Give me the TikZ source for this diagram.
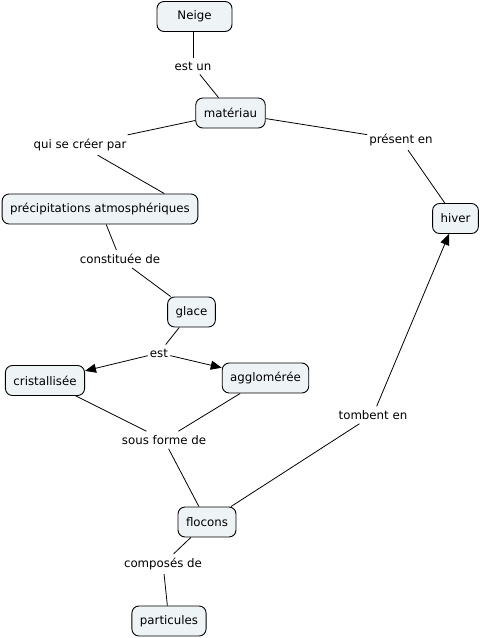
\documentclass[tikz,border=0pt]{standalone}
\usepackage{fontspec}
\setmainfont{DejaVu Sans}
\usetikzlibrary{arrows.meta}
\definecolor{cfill}{HTML}{EEF3F6}
\tikzset{
  concept/.style={draw=black, line width=0.9pt, fill=cfill, rounded corners=7pt,
    minimum height=30pt, inner xsep=8pt, inner ysep=2pt, font=\fontsize{11.8}{13}\selectfont},
  linklabel/.style={inner xsep=2pt, inner ysep=4pt, font=\fontsize{11.8}{13}\selectfont},
  conn/.style={draw=black, line width=0.8pt},
  arr/.style={conn, -{Triangle[length=11pt,width=9pt]}}
}
\begin{document}
\begin{tikzpicture}[x=1pt,y=-1pt]
\useasboundingbox (0,0) rectangle (481,638);
% concepts
\node[concept, minimum width=75pt] (neige) at (194.5,16.5) {Neige};
\node[concept] (materiau) at (230.5,113) {matériau};
\node[concept] (precip) at (100,209) {précipitations atmosphériques};
\node[concept] (hiver) at (455.5,218.5) {hiver};
\node[concept] (glace) at (191.5,312) {glace};
\node[concept] (crist) at (45,380.5) {cristallisée};
\node[concept] (agglo) at (265.5,378) {agglomérée};
\node[concept] (flocons) at (207,522) {flocons};
\node[concept] (partic) at (169,621) {particules};
% link labels
\node[linklabel] (estun) at (193,66) {est un};
\node[linklabel] (qui) at (80,145) {qui se créer par};
\node[linklabel] (present) at (401,140) {présent en};
\node[linklabel] (constit) at (120,259) {constituée de};
\node[linklabel] (est) at (159,353) {est};
\node[linklabel] (sous) at (164,440) {sous forme de};
\node[linklabel] (tombent) at (373,415) {tombent en};
\node[linklabel] (compo) at (163,564) {composés de};
% connectors
\draw[conn] (neige.south -| estun) -- (estun);
\draw[conn] (estun) -- ([xshift=-12pt]materiau.north);
\draw[conn] (materiau) -- (qui);
\draw[conn] (qui) -- ([xshift=-34pt]precip.north east);
\draw[conn] (materiau) -- (present);
\draw[conn] (present) -- (hiver);
\draw[conn] (precip) -- (constit);
\draw[conn] (constit) -- (glace);
\draw[conn] (glace) -- (est);
\draw[arr] (est) -- (crist);
\draw[arr] (est) -- (agglo);
\draw[conn] (crist) -- (sous);
\draw[conn] (agglo) -- (sous);
\draw[conn] (sous) -- (flocons);
\draw[conn] (flocons) -- (tombent);
\draw[arr] (tombent) -- (hiver);
\draw[conn] (flocons) -- (compo);
\draw[conn] (compo) -- (partic);
\end{tikzpicture}
\end{document}
